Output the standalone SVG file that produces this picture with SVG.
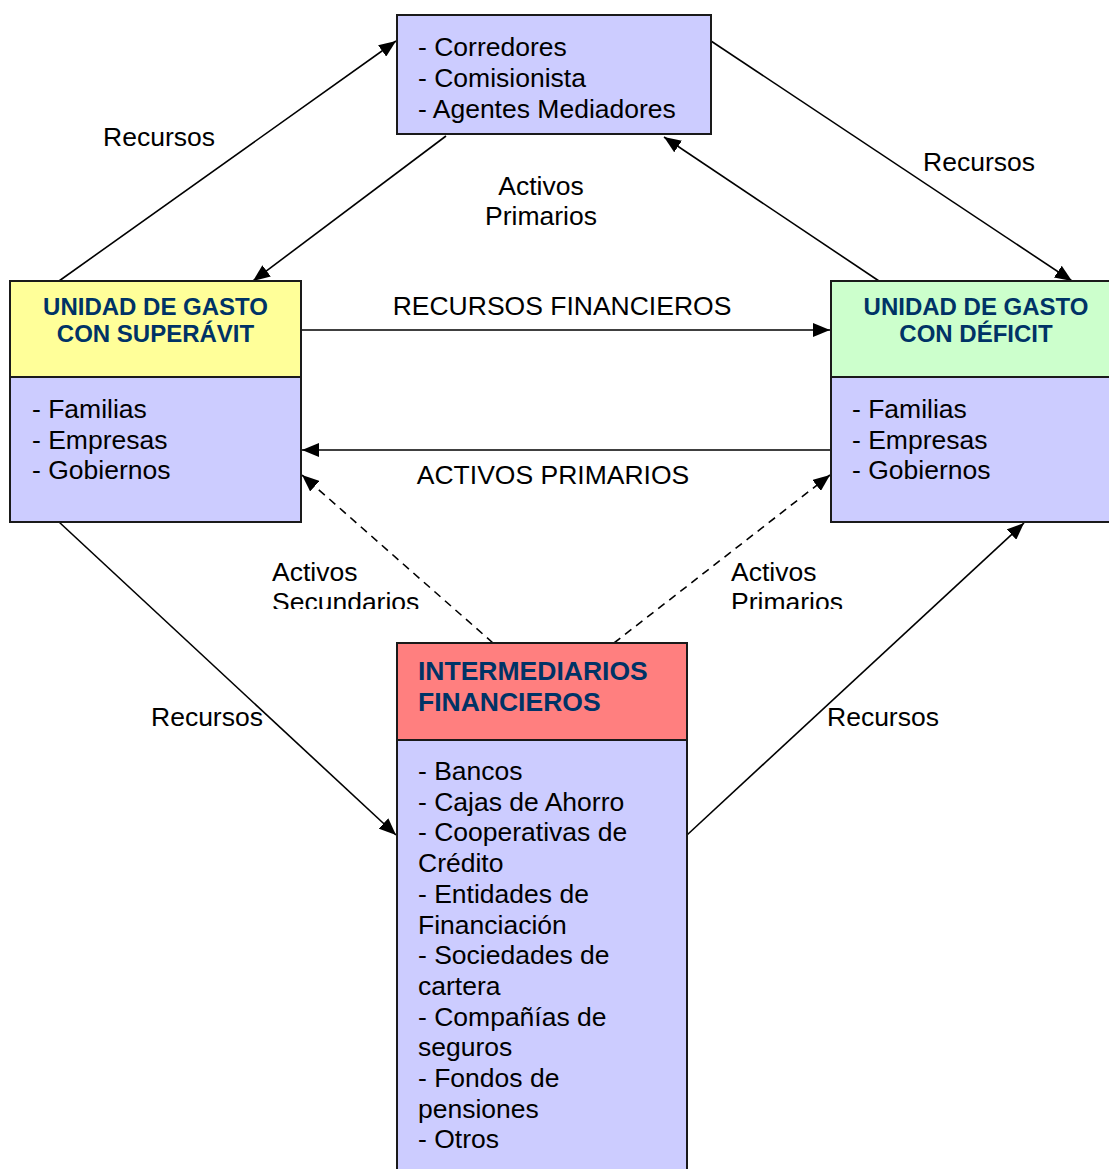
<svg xmlns="http://www.w3.org/2000/svg" width="1109" height="1169" viewBox="0 0 1109 1169">
  <style>
    .box { stroke: #1a1a1a; stroke-width: 2; }
    .body { fill: #CCCCFF; }
    .txt { font-family: "Liberation Sans", Arial, sans-serif; font-size: 26.5px; fill: #000; }
    .head { font-family: "Liberation Sans", Arial, sans-serif; font-weight: bold; fill: #003366; }
    .conn { stroke: #000; stroke-width: 1.6; fill: none; marker-end: url(#arrow); }
    .dash { stroke-dasharray: 8 6; }
  </style>
  <defs>
    <marker id="arrow" markerUnits="userSpaceOnUse" markerWidth="18" markerHeight="14" refX="17" refY="7" orient="auto">
      <path d="M0,0 L17,7 L0,14 z" fill="#000"/>
    </marker>
    <clipPath id="midLabels">
      <rect x="0" y="540" width="1109" height="69"/>
    </clipPath>
  </defs>

  <rect width="1109" height="1169" fill="#fff"/>

  <!-- connectors -->
  <g id="connectors">
    <line class="conn" x1="59" y1="281" x2="396" y2="41"/>
    <line class="conn" x1="446" y1="136" x2="253" y2="281"/>
    <line class="conn" x1="711" y1="41" x2="1072" y2="281"/>
    <line class="conn" x1="879" y1="281" x2="664" y2="137"/>
    <line class="conn" x1="301" y1="330" x2="830" y2="330"/>
    <line class="conn" x1="831" y1="450" x2="302" y2="450"/>
    <line class="conn dash" x1="493" y1="643" x2="302" y2="475"/>
    <line class="conn dash" x1="614" y1="643" x2="830" y2="475"/>
    <line class="conn" x1="59" y1="522" x2="396" y2="835"/>
    <line class="conn" x1="687" y1="835" x2="1024" y2="523"/>

    <text class="txt" x="159" y="146" text-anchor="middle">Recursos</text>
    <text class="txt" x="541" y="195" text-anchor="middle">Activos</text>
    <text class="txt" x="541" y="225" text-anchor="middle">Primarios</text>
    <text class="txt" x="979" y="171" text-anchor="middle">Recursos</text>
    <text class="txt" x="562" y="315" text-anchor="middle">RECURSOS FINANCIEROS</text>
    <text class="txt" x="553" y="484" text-anchor="middle">ACTIVOS PRIMARIOS</text>
    <g clip-path="url(#midLabels)">
      <text class="txt" x="272" y="581">Activos</text>
      <text class="txt" x="272" y="611">Secundarios</text>
      <text class="txt" x="731" y="581">Activos</text>
      <text class="txt" x="731" y="611">Primarios</text>
    </g>
    <text class="txt" x="151" y="726">Recursos</text>
    <text class="txt" x="827" y="726">Recursos</text>
  </g>

  <!-- brokers -->
  <g id="corredores">
    <rect class="box body" x="397" y="15" width="314" height="119"/>
    <text class="txt" x="418" y="56">- Corredores</text>
    <text class="txt" x="418" y="87">- Comisionista</text>
    <text class="txt" x="418" y="118">- Agentes Mediadores</text>
  </g>

  <!-- surplus unit -->
  <g id="superavit">
    <rect class="box" x="10" y="281" width="291" height="96" fill="#FFFF99"/>
    <rect class="box body" x="10" y="377" width="291" height="145"/>
    <text class="head" font-size="24" x="155.5" y="315" text-anchor="middle">UNIDAD DE GASTO</text>
    <text class="head" font-size="24" x="155.5" y="342" text-anchor="middle">CON SUPERÁVIT</text>
    <text class="txt" x="32" y="418">- Familias</text>
    <text class="txt" x="32" y="449">- Empresas</text>
    <text class="txt" x="32" y="479">- Gobiernos</text>
  </g>

  <!-- deficit unit -->
  <g id="deficit">
    <rect class="box" x="831" y="281" width="291" height="96" fill="#CCFFCC"/>
    <rect class="box body" x="831" y="377" width="291" height="145"/>
    <text class="head" font-size="24" x="976" y="315" text-anchor="middle">UNIDAD DE GASTO</text>
    <text class="head" font-size="24" x="976" y="342" text-anchor="middle">CON DÉFICIT</text>
    <text class="txt" x="852" y="418">- Familias</text>
    <text class="txt" x="852" y="449">- Empresas</text>
    <text class="txt" x="852" y="479">- Gobiernos</text>
  </g>

  <!-- financial intermediaries -->
  <g id="intermediarios">
    <rect class="box" x="397" y="643" width="290" height="97" fill="#FF7F7F"/>
    <rect class="box body" x="397" y="740" width="290" height="440"/>
    <text class="head" font-size="26.5" x="418" y="680">INTERMEDIARIOS</text>
    <text class="head" font-size="26.5" x="418" y="711">FINANCIEROS</text>
    <text class="txt" x="418" y="780">- Bancos</text>
    <text class="txt" x="418" y="810.7">- Cajas de Ahorro</text>
    <text class="txt" x="418" y="841.4">- Cooperativas de</text>
    <text class="txt" x="418" y="872.1">Crédito</text>
    <text class="txt" x="418" y="902.8">- Entidades de</text>
    <text class="txt" x="418" y="933.5">Financiación</text>
    <text class="txt" x="418" y="964.2">- Sociedades de</text>
    <text class="txt" x="418" y="994.9">cartera</text>
    <text class="txt" x="418" y="1025.6">- Compañías de</text>
    <text class="txt" x="418" y="1056.3">seguros</text>
    <text class="txt" x="418" y="1087">- Fondos de</text>
    <text class="txt" x="418" y="1117.7">pensiones</text>
    <text class="txt" x="418" y="1148.4">- Otros</text>
  </g>
</svg>
